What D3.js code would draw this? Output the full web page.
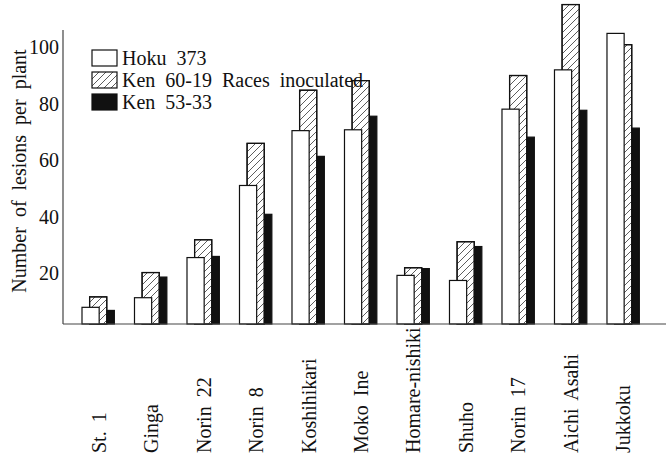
<!DOCTYPE html>
<html>
<head>
<meta charset="utf-8">
<script src="https://cdn.jsdelivr.net/npm/d3@7"></script>
<style>
  body { margin: 0; background: #fff; }
</style>
</head>
<body>
<div class="draw-bars"></div>
<script>
const categories = ["St. 1", "Ginga", "Norin 22", "Norin 8", "Koshihikari", "Moko Ine",
  "Homare-nishiki", "Shuho", "Norin 17", "Aichi Asahi", "Jukkoku"];
const seriesNames = ["Hoku 373", "Ken 60-19 Races inoculated", "Ken 53-33"];
const hoku373 = [5.9, 9.3, 23.5, 49.0, 68.4, 68.7, 17.2, 15.4, 76.0, 89.9, 102.8];
const ken6019 = [9.6, 18.2, 29.8, 63.9, 82.7, 86.1, 19.9, 29.1, 87.9, 113.0, 98.8];
const ken5333 = [4.8, 16.6, 23.9, 38.8, 59.3, 73.5, 19.6, 27.4, 66.1, 75.6, 69.3];
const yTicks = [20, 40, 60, 80, 100];

const W = 666, H = 459;
const serif = "'Liberation Serif', serif";
const svg = d3.select(".draw-bars").append("svg")
  .attr("width", W).attr("height", H);

// hatch pattern
const defs = svg.append("defs");
defs.append("pattern")
  .attr("id", "hatch")
  .attr("patternUnits", "userSpaceOnUse")
  .attr("width", 7).attr("height", 7)
  .append("path")
  .attr("d", "M-1,8 L8,-1 M-1,1 L1,-1 M6,8 L8,6")
  .attr("stroke", "#333").attr("stroke-width", 0.8);

const x = d3.scaleBand()
  .domain(categories)
  .range([72.25, 649.75])
  .paddingInner(0.371)
  .paddingOuter(0.1857);

const y = d3.scaleLinear().domain([0, 104]).range([324, 30]);

const sub = d3.scaleLinear().domain([0, 2]).range([0, x.bandwidth() * 0.46]);
const barW = x.bandwidth() * 0.52;

const fills = ["#fff", "url(#hatch)", "#111"];
const series = [hoku373, ken6019, ken5333];

// back to front: black, hatched, white
[2, 1, 0].forEach(function (s) {
  const g = svg.append("g");
  const layers = s === 1 ? ["#fff", "url(#hatch)"] : [fills[s]];
  layers.forEach(function (f) {
    g.append("g")
      .selectAll("rect")
      .data(series[s])
      .enter()
      .append("rect")
      .attr("x", (d, i) => x(categories[i]) + sub(s))
      .attr("y", d => y(d))
      .attr("width", barW)
      .attr("height", d => y(0) - y(d))
      .attr("fill", f)
      .attr("stroke", "#111")
      .attr("stroke-width", 1.2);
  });
});

// axes
svg.append("line")
  .attr("x1", 63).attr("x2", 63)
  .attr("y1", y.range()[1]).attr("y2", y(0))
  .attr("stroke", "#444").attr("stroke-width", 1.2);
svg.append("line")
  .attr("x1", 63).attr("x2", W)
  .attr("y1", y(0)).attr("y2", y(0))
  .attr("stroke", "#444").attr("stroke-width", 1.2);

function label(sel) {
  sel.attr("font-family", serif)
    .style("font-family", serif)
    .style("font-size", "20px")
    .attr("fill", "#111");
}

svg.append("g")
  .selectAll("text")
  .data(yTicks)
  .enter()
  .append("text")
  .attr("x", 59)
  .attr("y", d => y(d) + 13)
  .attr("text-anchor", "end")
  .call(label)
  .text(d => d);

svg.append("text")
  .attr("transform", "translate(26,171) rotate(-90)")
  .attr("text-anchor", "middle")
  .call(label)
  .style("word-spacing", "5px")
  .text("Number of lesions per plant");

// category labels
svg.append("g")
  .selectAll("text")
  .data(categories)
  .enter()
  .append("text")
  .attr("transform", d => "translate(" + (x(d) + x.bandwidth() / 2 + 7) + ",453) rotate(-90)")
  .call(label)
  .style("word-spacing", "4px")
  .text(d => d);

// legend
const legendG = svg.selectAll(".legend")
  .data(seriesNames)
  .enter()
  .append("g")
  .attr("class", "legend")
  .attr("transform", (d, i) => "translate(92," + (50 + i * 22) + ")");

legendG.append("rect")
  .attr("width", 25).attr("height", 16)
  .attr("fill", (d, i) => i === 1 ? "url(#hatch)" : fills[i])
  .attr("stroke", "#111").attr("stroke-width", 1.2);

legendG.append("text")
  .attr("x", 30).attr("y", 15)
  .call(label)
  .style("word-spacing", "5px")
  .text(d => d);
</script>
</body>
</html>
